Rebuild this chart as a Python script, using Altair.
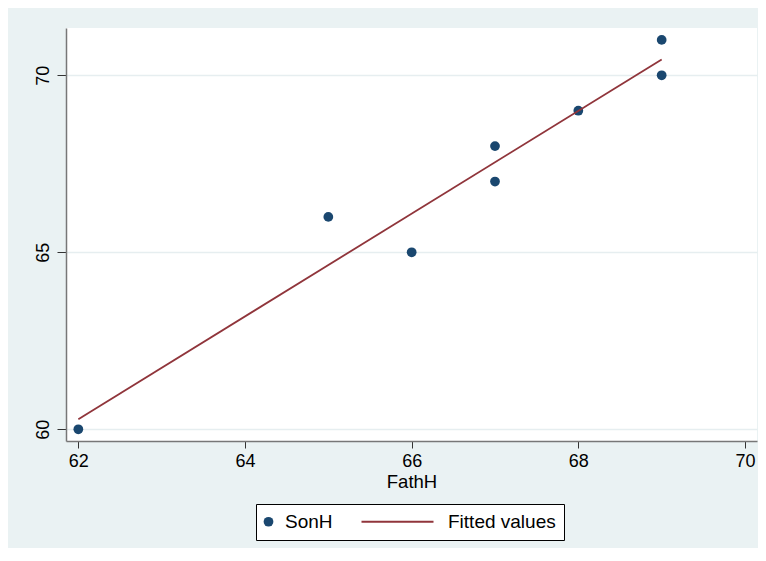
import altair as alt
import pandas as pd

# ---- data ----
fath_h = [62, 65, 66, 67, 67, 68, 69, 69]
son_h = [60, 66, 65, 68, 67, 69, 71, 70]
series_names = ["SonH", "Fitted values"]
x_ticks = [62, 64, 66, 68, 70]
y_ticks = [60, 65, 70]
fit_extent = [62, 69]

df = pd.DataFrame({"FathH": fath_h, "SonH": son_h, "series": ["SonH"] * len(fath_h)})

NAVY = "#1a476f"
MAROON = "#90353b"
BG = "#eaf2f3"
FONT = "Liberation Sans"

color_scale = alt.Scale(domain=series_names, range=[NAVY, MAROON])
shape_scale = alt.Scale(domain=series_names, range=["circle", "stroke"])
size_scale = alt.Scale(domain=series_names, range=[95, 5184])

x_enc = alt.X(
    "FathH:Q",
    scale=alt.Scale(domain=[61.852, 70.144], nice=False, zero=False),
    axis=alt.Axis(values=x_ticks, title="FathH", grid=False, tickSize=7,
                  labelPadding=4, titlePadding=2),
)
y_enc = alt.Y(
    "SonH:Q",
    scale=alt.Scale(domain=[59.67, 71.336], nice=False, zero=False),
    axis=alt.Axis(values=y_ticks, title=None, grid=True, tickSize=9,
                  labelAngle=270, labelAlign="center", labelBaseline="bottom",
                  labelPadding=5),
)

legend = alt.Legend(
    title=None,
    orient="none",
    legendX=190,
    legendY=476,
    direction="horizontal",
    padding=8,
    fillColor="white",
    strokeColor="black",
    labelFont=FONT,
    labelFontSize=19,
    labelColor="black",
    labelOffset={"expr": "datum.value === 'SonH' ? 7 : 41"},
    symbolOffset={"expr": "datum.value === 'SonH' ? -5 : 0"},
    columnPadding=24,
    symbolOpacity=1,
    symbolStrokeColor={"expr": "datum.value === 'SonH' ? '#1a476f' : '#90353b'"},
    symbolStrokeWidth={"expr": "datum.value === 'SonH' ? 0 : 1.8"},
)

points = alt.Chart(df).mark_point(filled=True, opacity=1).encode(
    x=x_enc,
    y=y_enc,
    color=alt.Color("series:N", scale=color_scale, legend=legend),
    shape=alt.Shape("series:N", scale=shape_scale, legend=legend),
    size=alt.Size("series:N", scale=size_scale, legend=legend),
)

line = (
    alt.Chart(df)
    .transform_regression("FathH", "SonH", extent=fit_extent)
    .transform_calculate(series="'Fitted values'")
    .mark_line(strokeWidth=1.8)
    .encode(
        x=x_enc,
        y=y_enc,
        color=alt.Color("series:N", scale=color_scale, legend=legend),
    )
)

chart = (
    alt.layer(points, line)
    .properties(
        width=691,
        height=413,
        padding={"left": 58, "top": 20, "right": 1, "bottom": 107},
        autosize=alt.AutoSizeParams(type="none"),
        background=BG,
    )
    .configure_view(fill="white", stroke=None)
    .configure_axis(
        labelFont=FONT,
        labelFontSize=18,
        labelColor="black",
        titleFont=FONT,
        titleFontSize=18.5,
        titleFontWeight="normal",
        titleColor="black",
        domainColor="#777777",
        domainWidth=1.5,
        tickColor="#333333",
        tickWidth=1,
        gridColor="#e6eef0",
        gridWidth=1.5,
    )
)

chart.save("out.html", embed_options={"renderer": "svg", "actions": False})
